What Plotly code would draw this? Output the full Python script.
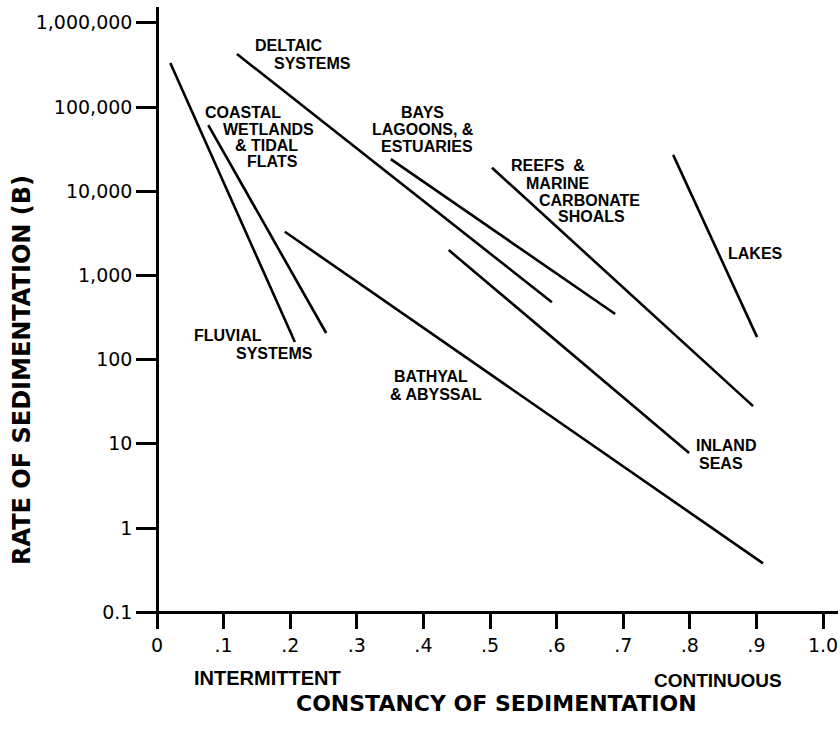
import plotly.graph_objects as go

# ---- data ----
environments = ["Fluvial systems", "Coastal wetlands & tidal flats", "Deltaic systems",
                "Bays, lagoons & estuaries", "Reefs & marine carbonate shoals", "Lakes",
                "Inland seas", "Bathyal & abyssal"]
constancy_start = [0.020, 0.077, 0.120, 0.351, 0.503, 0.775, 0.438, 0.192]
constancy_end = [0.207, 0.254, 0.593, 0.688, 0.895, 0.901, 0.799, 0.910]
rate_start = [333000, 61000, 426000, 24000, 19000, 27000, 2000, 3300]
rate_end = [162, 207, 480, 348, 28, 185, 7.8, 0.38]

x_tickvals = [0, 0.1, 0.2, 0.3, 0.4, 0.5, 0.6, 0.7, 0.8, 0.9, 1.0]
x_ticktext = ["0", ".1", ".2", ".3", ".4", ".5", ".6", ".7", ".8", ".9", "1.0"]
y_tickvals = [0.1, 1, 10, 100, 1000, 10000, 100000, 1000000]
y_ticktext = ["0.1", "1", "10", "100", "1,000", "10,000", "100,000", "1,000,000"]

# label lines: (text, x constancy, log10 rate)
label_text = ["DELTAIC", "SYSTEMS", "COASTAL", "WETLANDS", "& TIDAL", "FLATS",
              "BAYS", "LAGOONS, &", "ESTUARIES", "REEFS  &", "MARINE", "CARBONATE", "SHOALS",
              "LAKES", "INLAND", "SEAS", "FLUVIAL", "SYSTEMS", "BATHYAL", "& ABYSSAL"]
label_x = [0.197, 0.233, 0.129, 0.168, 0.164, 0.173,
           0.399, 0.399, 0.405, 0.587, 0.601, 0.649, 0.652,
           0.898, 0.854, 0.847, 0.107, 0.177, 0.411, 0.419]
label_logy = [5.736, 5.511, 4.929, 4.727, 4.537, 4.347,
              4.929, 4.727, 4.525, 4.311, 4.097, 3.895, 3.694,
              3.266, 0.974, 0.772, 2.292, 2.078, 1.805, 1.591]

fig = go.Figure()
for name, x0, x1, y0, y1 in zip(environments, constancy_start, constancy_end, rate_start, rate_end):
    fig.add_trace(go.Scatter(x=[x0, x1], y=[y0, y1], mode="lines", name=name,
                             line=dict(color="black", width=2.6), showlegend=False))

label_font = dict(family="Liberation Sans", size=16, color="black", weight="bold")
for t, lx, ly in zip(label_text, label_x, label_logy):
    fig.add_annotation(x=lx, y=ly, xref="x", yref="y", text=t, showarrow=False,
                       font=label_font, xanchor="center", yanchor="middle")

# page geometry (screen pixels); body margin is removed by the post script
W, H = 840, 731
L, R, T, B = 140, 838, 7, 627          # plot area in px
x0px, xscale = 157, 666                # x=0 position, px per unit
y1px, yscale = 528, 84.2               # y=1 position, px per decade
xr = [(L - x0px) / xscale, (R - x0px) / xscale]
yr = [(y1px - B) / yscale, (y1px - T) / yscale]


def px_x(px):
    return (px - L) / (R - L)


def px_y(py):
    return (B - py) / (B - T)


fig.add_annotation(x=px_x(267), y=px_y(678), xref="paper", yref="paper",
                   text="INTERMITTENT", showarrow=False, xanchor="center", yanchor="middle",
                   font=dict(family="Liberation Sans", size=20, color="black", weight="bold"))
fig.add_annotation(x=px_x(718), y=px_y(680), xref="paper", yref="paper",
                   text="CONTINUOUS", showarrow=False, xanchor="center", yanchor="middle",
                   font=dict(family="Liberation Sans", size=19, color="black", weight="bold"))
fig.add_annotation(x=px_x(496), y=px_y(703), xref="paper", yref="paper",
                   text="CONSTANCY OF SEDIMENTATION", showarrow=False, xanchor="center", yanchor="middle",
                   font=dict(family="DejaVu Sans", size=22, color="black", weight="bold"))
fig.add_annotation(x=px_x(22), y=px_y(370), xref="paper", yref="paper",
                   text="RATE OF SEDIMENTATION (B)", showarrow=False, textangle=-90,
                   xanchor="center", yanchor="middle",
                   font=dict(family="DejaVu Sans", size=24, color="black", weight="bold"))

tick_font = dict(family="DejaVu Sans", size=19, color="black")
fig.update_layout(
    width=W, height=H,
    margin=dict(l=L, r=W - R, t=T, b=H - B, pad=0, autoexpand=False),
    paper_bgcolor="white", plot_bgcolor="white",
    xaxis=dict(range=xr, domain=[0, 1], anchor="free", position=px_y(612),
               showline=True, linecolor="black", linewidth=2.5,
               ticks="outside", ticklen=15, tickwidth=2.5, tickcolor="black",
               tickvals=x_tickvals, ticktext=x_ticktext, tickfont=tick_font,
               showgrid=False, zeroline=False),
    yaxis=dict(type="log", range=yr, domain=[0, 1], anchor="free", position=px_x(x0px),
               showline=True, linecolor="black", linewidth=2.5,
               ticks="outside", ticklen=20, tickwidth=2.5, tickcolor="black",
               tickvals=y_tickvals, ticktext=y_ticktext, tickfont=tick_font,
               showgrid=False, zeroline=False),
)

fig.write_html("out.html", config={"displayModeBar": False},
               post_script="document.body.style.margin='0';document.body.style.overflow='hidden';")
